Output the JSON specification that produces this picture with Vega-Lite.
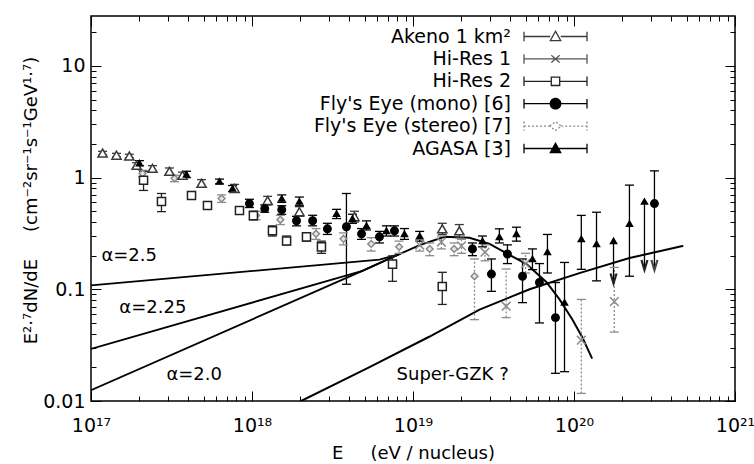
{
  "$schema": "https://vega.github.io/schema/vega-lite/v6.json",
  "width": 644,
  "height": 385,
  "autosize": {"type": "none"},
  "padding": {"left": 91, "top": 16, "right": 19, "bottom": 63},
  "background": "white",
  "config": {
    "view": {"stroke": "black", "strokeWidth": 1.5},
    "font": "DejaVu Sans",
    "axis": {"grid": false, "domain": false, "tickColor": "black", "labelColor": "black", "titleColor": "black", "labelFont": "DejaVu Sans", "titleFont": "DejaVu Sans", "labelFontSize": 19, "titleFontSize": 18, "titleFontWeight": "normal", "labelFlush": false, "labelOverlap": false, "labelBound": false}
  },
  "datasets": {
    "curves": [
      {"curve": "a25", "E": 1e17, "y": 0.1086},
      {"curve": "a25", "E": 6.19e18, "y": 0.1845},
      {"curve": "a25", "E": 8.24e18, "y": 0.207},
      {"curve": "a225", "E": 1e17, "y": 0.0293},
      {"curve": "a225", "E": 4.85e18, "y": 0.146},
      {"curve": "a225", "E": 8.24e18, "y": 0.207},
      {"curve": "a20", "E": 1e17, "y": 0.0125},
      {"curve": "a20", "E": 4.85e18, "y": 0.146},
      {"curve": "a20", "E": 8.24e18, "y": 0.207},
      {"curve": "gzk", "E": 8.24e18, "y": 0.207},
      {"curve": "gzk", "E": 1.1e19, "y": 0.249},
      {"curve": "gzk", "E": 1.57e19, "y": 0.295},
      {"curve": "gzk", "E": 2.24e19, "y": 0.289},
      {"curve": "gzk", "E": 2.99e19, "y": 0.255},
      {"curve": "gzk", "E": 3.97e19, "y": 0.203},
      {"curve": "gzk", "E": 5.07e19, "y": 0.168},
      {"curve": "gzk", "E": 6.75e19, "y": 0.1156},
      {"curve": "gzk", "E": 8.13e19, "y": 0.0813},
      {"curve": "gzk", "E": 9.77e19, "y": 0.0536},
      {"curve": "gzk", "E": 1.13e20, "y": 0.0368},
      {"curve": "gzk", "E": 1.29e20, "y": 0.0243},
      {"curve": "sgzk", "E": 2.02e18, "y": 0.01},
      {"curve": "sgzk", "E": 5.37e18, "y": 0.0201},
      {"curve": "sgzk", "E": 1.26e19, "y": 0.0376},
      {"curve": "sgzk", "E": 2.59e19, "y": 0.0659},
      {"curve": "sgzk", "E": 5.3e19, "y": 0.1},
      {"curve": "sgzk", "E": 1.08e20, "y": 0.1397},
      {"curve": "sgzk", "E": 2.21e20, "y": 0.1905},
      {"curve": "sgzk", "E": 4.72e20, "y": 0.2443}
    ],
    "points": [
      {"series": "Fly's Eye (stereo) [7]", "E": 2.09e17, "y": 1.09, "lo": 1.02, "hi": 1.16, "ul": 0},
      {"series": "Fly's Eye (stereo) [7]", "E": 3.3e17, "y": 0.986, "lo": 0.92, "hi": 1.05, "ul": 0},
      {"series": "Fly's Eye (stereo) [7]", "E": 6.47e17, "y": 0.65, "lo": 0.6, "hi": 0.7, "ul": 0},
      {"series": "Fly's Eye (stereo) [7]", "E": 1.06e18, "y": 0.457, "lo": 0.42, "hi": 0.5, "ul": 0},
      {"series": "Fly's Eye (stereo) [7]", "E": 1.5e18, "y": 0.42, "lo": 0.38, "hi": 0.46, "ul": 0},
      {"series": "Fly's Eye (stereo) [7]", "E": 2.5e18, "y": 0.314, "lo": 0.28, "hi": 0.35, "ul": 0},
      {"series": "Fly's Eye (stereo) [7]", "E": 3.7e18, "y": 0.283, "lo": 0.25, "hi": 0.32, "ul": 0},
      {"series": "Fly's Eye (stereo) [7]", "E": 5.5e18, "y": 0.255, "lo": 0.22, "hi": 0.29, "ul": 0},
      {"series": "Fly's Eye (stereo) [7]", "E": 8.2e18, "y": 0.24, "lo": 0.21, "hi": 0.27, "ul": 0},
      {"series": "Fly's Eye (stereo) [7]", "E": 1.27e19, "y": 0.23, "lo": 0.2, "hi": 0.26, "ul": 0},
      {"series": "Fly's Eye (stereo) [7]", "E": 1.8e19, "y": 0.23, "lo": 0.2, "hi": 0.26, "ul": 0},
      {"series": "Fly's Eye (stereo) [7]", "E": 2.41e19, "y": 0.131, "lo": 0.0535, "hi": 0.187, "ul": 0},
      {"series": "Hi-Res 1", "E": 1.1e19, "y": 0.249, "lo": 0.22, "hi": 0.28, "ul": 0},
      {"series": "Hi-Res 1", "E": 1.5e19, "y": 0.265, "lo": 0.23, "hi": 0.3, "ul": 0},
      {"series": "Hi-Res 1", "E": 2.0e19, "y": 0.245, "lo": 0.21, "hi": 0.28, "ul": 0},
      {"series": "Hi-Res 1", "E": 2.8e19, "y": 0.215, "lo": 0.18, "hi": 0.25, "ul": 0},
      {"series": "Hi-Res 1", "E": 3.79e19, "y": 0.0706, "lo": 0.0558, "hi": 0.152, "ul": 0},
      {"series": "Hi-Res 1", "E": 5.0e19, "y": 0.17, "lo": 0.14, "hi": 0.21, "ul": 0},
      {"series": "Hi-Res 1", "E": 1.11e20, "y": 0.035, "lo": 0.0117, "hi": 0.0812, "ul": 0},
      {"series": "Hi-Res 1", "E": 1.78e20, "y": 0.0776, "lo": 0.0414, "hi": 0.157, "ul": 0},
      {"series": "Akeno 1 km²", "E": 1.18e17, "y": 1.66, "lo": 1.6, "hi": 1.72, "ul": 0},
      {"series": "Akeno 1 km²", "E": 1.44e17, "y": 1.59, "lo": 1.53, "hi": 1.65, "ul": 0},
      {"series": "Akeno 1 km²", "E": 1.73e17, "y": 1.56, "lo": 1.5, "hi": 1.62, "ul": 0},
      {"series": "Akeno 1 km²", "E": 1.92e17, "y": 1.29, "lo": 1.22, "hi": 1.36, "ul": 0},
      {"series": "Akeno 1 km²", "E": 2.41e17, "y": 1.21, "lo": 1.14, "hi": 1.28, "ul": 0},
      {"series": "Akeno 1 km²", "E": 3.07e17, "y": 1.14, "lo": 1.07, "hi": 1.22, "ul": 0},
      {"series": "Akeno 1 km²", "E": 3.7e17, "y": 1.05, "lo": 0.98, "hi": 1.12, "ul": 0},
      {"series": "Akeno 1 km²", "E": 4.86e17, "y": 0.889, "lo": 0.82, "hi": 0.96, "ul": 0},
      {"series": "Akeno 1 km²", "E": 7.79e17, "y": 0.8, "lo": 0.74, "hi": 0.87, "ul": 0},
      {"series": "Akeno 1 km²", "E": 1.25e18, "y": 0.624, "lo": 0.57, "hi": 0.68, "ul": 0},
      {"series": "Akeno 1 km²", "E": 1.97e18, "y": 0.496, "lo": 0.45, "hi": 0.55, "ul": 0},
      {"series": "Akeno 1 km²", "E": 4.33e18, "y": 0.447, "lo": 0.4, "hi": 0.5, "ul": 0},
      {"series": "Akeno 1 km²", "E": 1.52e19, "y": 0.348, "lo": 0.31, "hi": 0.39, "ul": 0},
      {"series": "Akeno 1 km²", "E": 1.94e19, "y": 0.334, "lo": 0.29, "hi": 0.38, "ul": 0},
      {"series": "Hi-Res 2", "E": 2.12e17, "y": 0.946, "lo": 0.768, "hi": 1.14, "ul": 0},
      {"series": "Hi-Res 2", "E": 2.74e17, "y": 0.611, "lo": 0.496, "hi": 0.721, "ul": 0},
      {"series": "Hi-Res 2", "E": 4.21e17, "y": 0.692, "lo": 0.64, "hi": 0.75, "ul": 0},
      {"series": "Hi-Res 2", "E": 5.29e17, "y": 0.562, "lo": 0.52, "hi": 0.61, "ul": 0},
      {"series": "Hi-Res 2", "E": 8.36e17, "y": 0.507, "lo": 0.47, "hi": 0.55, "ul": 0},
      {"series": "Hi-Res 2", "E": 1.02e18, "y": 0.457, "lo": 0.42, "hi": 0.5, "ul": 0},
      {"series": "Hi-Res 2", "E": 1.34e18, "y": 0.334, "lo": 0.3, "hi": 0.37, "ul": 0},
      {"series": "Hi-Res 2", "E": 1.64e18, "y": 0.271, "lo": 0.25, "hi": 0.3, "ul": 0},
      {"series": "Hi-Res 2", "E": 2.18e18, "y": 0.295, "lo": 0.27, "hi": 0.32, "ul": 0},
      {"series": "Hi-Res 2", "E": 2.7e18, "y": 0.24, "lo": 0.21, "hi": 0.27, "ul": 0},
      {"series": "Hi-Res 2", "E": 7.46e18, "y": 0.168, "lo": 0.118, "hi": 0.199, "ul": 0},
      {"series": "Hi-Res 2", "E": 1.52e19, "y": 0.106, "lo": 0.0732, "hi": 0.142, "ul": 0},
      {"series": "Fly's Eye (mono) [6]", "E": 9.64e17, "y": 0.586, "lo": 0.54, "hi": 0.64, "ul": 0},
      {"series": "Fly's Eye (mono) [6]", "E": 1.2e18, "y": 0.528, "lo": 0.49, "hi": 0.57, "ul": 0},
      {"series": "Fly's Eye (mono) [6]", "E": 1.53e18, "y": 0.517, "lo": 0.47, "hi": 0.56, "ul": 0},
      {"series": "Fly's Eye (mono) [6]", "E": 1.89e18, "y": 0.411, "lo": 0.37, "hi": 0.45, "ul": 0},
      {"series": "Fly's Eye (mono) [6]", "E": 2.38e18, "y": 0.411, "lo": 0.37, "hi": 0.46, "ul": 0},
      {"series": "Fly's Eye (mono) [6]", "E": 2.94e18, "y": 0.348, "lo": 0.31, "hi": 0.39, "ul": 0},
      {"series": "Fly's Eye (mono) [6]", "E": 3.86e18, "y": 0.363, "lo": 0.111, "hi": 0.721, "ul": 0},
      {"series": "Fly's Eye (mono) [6]", "E": 4.79e18, "y": 0.314, "lo": 0.28, "hi": 0.35, "ul": 0},
      {"series": "Fly's Eye (mono) [6]", "E": 6.19e18, "y": 0.295, "lo": 0.26, "hi": 0.33, "ul": 0},
      {"series": "Fly's Eye (mono) [6]", "E": 7.67e18, "y": 0.334, "lo": 0.3, "hi": 0.37, "ul": 0},
      {"series": "Fly's Eye (mono) [6]", "E": 2.34e19, "y": 0.23, "lo": 0.2, "hi": 0.26, "ul": 0},
      {"series": "Fly's Eye (mono) [6]", "E": 3.07e19, "y": 0.137, "lo": 0.0959, "hi": 0.187, "ul": 0},
      {"series": "Fly's Eye (mono) [6]", "E": 3.86e19, "y": 0.207, "lo": 0.17, "hi": 0.25, "ul": 0},
      {"series": "Fly's Eye (mono) [6]", "E": 4.79e19, "y": 0.131, "lo": 0.076, "hi": 0.187, "ul": 0},
      {"series": "Fly's Eye (mono) [6]", "E": 6.1e19, "y": 0.115, "lo": 0.05, "hi": 0.17, "ul": 0},
      {"series": "Fly's Eye (mono) [6]", "E": 7.67e19, "y": 0.0558, "lo": 0.0177, "hi": 0.115, "ul": 0},
      {"series": "Fly's Eye (mono) [6]", "E": 3.16e20, "y": 0.586, "lo": 0.152, "hi": 1.15, "ul": 1},
      {"series": "AGASA [3]", "E": 2.0e17, "y": 1.35, "lo": 1.28, "hi": 1.42, "ul": 0},
      {"series": "AGASA [3]", "E": 3.92e17, "y": 1.07, "lo": 1.0, "hi": 1.14, "ul": 0},
      {"series": "AGASA [3]", "E": 6.28e17, "y": 0.926, "lo": 0.88, "hi": 0.97, "ul": 0},
      {"series": "AGASA [3]", "E": 7.57e17, "y": 0.8, "lo": 0.75, "hi": 0.85, "ul": 0},
      {"series": "AGASA [3]", "E": 1.53e18, "y": 0.65, "lo": 0.6, "hi": 0.7, "ul": 0},
      {"series": "AGASA [3]", "E": 1.97e18, "y": 0.611, "lo": 0.56, "hi": 0.67, "ul": 0},
      {"series": "AGASA [3]", "E": 3.35e18, "y": 0.476, "lo": 0.43, "hi": 0.52, "ul": 0},
      {"series": "AGASA [3]", "E": 4.21e18, "y": 0.429, "lo": 0.39, "hi": 0.47, "ul": 0},
      {"series": "AGASA [3]", "E": 5.14e18, "y": 0.371, "lo": 0.34, "hi": 0.41, "ul": 0},
      {"series": "AGASA [3]", "E": 6.84e18, "y": 0.334, "lo": 0.3, "hi": 0.37, "ul": 0},
      {"series": "AGASA [3]", "E": 8.85e18, "y": 0.314, "lo": 0.28, "hi": 0.35, "ul": 0},
      {"series": "AGASA [3]", "E": 1.1e19, "y": 0.301, "lo": 0.27, "hi": 0.33, "ul": 0},
      {"series": "AGASA [3]", "E": 2.7e19, "y": 0.271, "lo": 0.24, "hi": 0.3, "ul": 0},
      {"series": "AGASA [3]", "E": 3.44e19, "y": 0.295, "lo": 0.26, "hi": 0.348, "ul": 0},
      {"series": "AGASA [3]", "E": 4.39e19, "y": 0.314, "lo": 0.27, "hi": 0.36, "ul": 0},
      {"series": "AGASA [3]", "E": 5.52e19, "y": 0.187, "lo": 0.15, "hi": 0.23, "ul": 0},
      {"series": "AGASA [3]", "E": 6.84e19, "y": 0.216, "lo": 0.14, "hi": 0.31, "ul": 0},
      {"series": "AGASA [3]", "E": 8.73e19, "y": 0.0763, "lo": 0.0183, "hi": 0.174, "ul": 0},
      {"series": "AGASA [3]", "E": 1.11e20, "y": 0.283, "lo": 0.151, "hi": 0.459, "ul": 0},
      {"series": "AGASA [3]", "E": 1.38e20, "y": 0.255, "lo": 0.119, "hi": 0.49, "ul": 0},
      {"series": "AGASA [3]", "E": 1.76e20, "y": 0.271, "lo": 0.115, "hi": 0.271, "ul": 1},
      {"series": "AGASA [3]", "E": 2.21e20, "y": 0.387, "lo": 0.131, "hi": 0.857, "ul": 0},
      {"series": "AGASA [3]", "E": 2.74e20, "y": 0.611, "lo": 0.152, "hi": 0.611, "ul": 1}
    ],
    "labels": [
      {"label": "α=2.5", "E": 1.16e17, "y": 0.199},
      {"label": "α=2.25", "E": 1.5e17, "y": 0.0687},
      {"label": "α=2.0", "E": 2.94e17, "y": 0.0171},
      {"label": "Super-GZK ?", "E": 7.91e18, "y": 0.0171}
    ],
    "legendItems": [
      {"name": "Akeno 1 km²"},
      {"name": "Hi-Res 1"},
      {"name": "Hi-Res 2"},
      {"name": "Fly's Eye (mono) [6]"},
      {"name": "Fly's Eye (stereo) [7]"},
      {"name": "AGASA [3]"}
    ]
  },
  "resolve": {
    "scale": {"color": "independent", "shape": "independent", "fill": "independent", "stroke": "independent", "strokeDash": "independent", "strokeWidth": "independent", "size": "independent"},
    "axis": {"x": "independent", "y": "independent"},
    "legend": {"color": "independent", "shape": "independent", "fill": "independent", "stroke": "independent", "strokeDash": "independent", "strokeWidth": "independent", "size": "independent"}
  },
  "layer": [
    {
      "data": {"name": "curves"},
      "mark": {"type": "line", "color": "black", "clip": true, "strokeCap": "round"},
      "encoding": {
        "x": {"field": "E", "type": "quantitative", "scale": {"type": "log", "domain": [1e17, 1e21]},
          "axis": {"orient": "bottom",
            "values": [1e17,2e17,3e17,4e17,5e17,6e17,7e17,8e17,9e17,1e18,2e18,3e18,4e18,5e18,6e18,7e18,8e18,9e18,1e19,2e19,3e19,4e19,5e19,6e19,7e19,8e19,9e19,1e20,2e20,3e20,4e20,5e20,6e20,7e20,8e20,9e20,1e21],
            "tickSize": {"condition": {"test": "abs(log(datum.value)/LN10 - round(log(datum.value)/LN10)) < 0.01", "value": -10}, "value": -5},
            "tickWidth": 1,
            "labelPadding": 25,
            "labelExpr": "abs(log(datum.value)/LN10 - round(log(datum.value)/LN10)) < 0.01 ? '10' + (round(log(datum.value)/LN10) == 17 ? '¹⁷' : round(log(datum.value)/LN10) == 18 ? '¹⁸' : round(log(datum.value)/LN10) == 19 ? '¹⁹' : round(log(datum.value)/LN10) == 20 ? '²⁰' : '²¹') : ''",
            "title": "E\u2003\u2002(eV / nucleus)",
            "titleY": 57,
            "titleBaseline": "alphabetic"}},
        "y": {"field": "y", "type": "quantitative", "scale": {"type": "log", "domain": [0.01, 28]},
          "axis": {"orient": "left",
            "values": [0.01,0.02,0.03,0.04,0.05,0.06,0.07,0.08,0.09,0.1,0.2,0.3,0.4,0.5,0.6,0.7,0.8,0.9,1,2,3,4,5,6,7,8,9,10,20],
            "tickSize": {"condition": {"test": "abs(log(datum.value)/LN10 - round(log(datum.value)/LN10)) < 0.01", "value": -10}, "value": -5},
            "tickWidth": 1,
            "labelPadding": 16,
            "labelExpr": "abs(log(datum.value)/LN10 - round(log(datum.value)/LN10)) < 0.01 ? format(datum.value, '~g') : ''",
            "title": "E²·⁷dN/dE\u2003\u2002(cm⁻²sr⁻¹s⁻¹GeV¹·⁷)",
            "titleAngle": -90,
            "titleX": -55,
            "titleY": 184,
            "titleAlign": "center",
            "titleBaseline": "alphabetic"}},
        "detail": {"field": "curve"},
        "strokeWidth": {"field": "curve", "type": "nominal", "scale": {"domain": ["a25", "a225", "a20", "gzk", "sgzk"], "range": [1.8, 2, 2, 3.2, 1]}, "legend": null}
      }
    },
    {
      "data": {"name": "points"},
      "mark": {"type": "rule", "strokeWidth": 1.3},
      "encoding": {
        "x": {"field": "E", "type": "quantitative", "scale": {"type": "log", "domain": [1e17, 1e21]}, "axis": null},
        "y": {"field": "lo", "type": "quantitative", "scale": {"type": "log", "domain": [0.01, 28]}, "axis": null},
        "y2": {"field": "hi"},
        "color": {"field": "series", "type": "nominal", "scale": {"domain": ["Akeno 1 km²", "Hi-Res 1", "Hi-Res 2", "Fly's Eye (mono) [6]", "Fly's Eye (stereo) [7]", "AGASA [3]"], "range": ["#3a3a3a", "#8c8c8c", "#222222", "#000000", "#8a8a8a", "#000000"]}, "legend": null},
        "strokeDash": {"field": "series", "type": "nominal", "scale": {"domain": ["Akeno 1 km²", "Hi-Res 1", "Hi-Res 2", "Fly's Eye (mono) [6]", "Fly's Eye (stereo) [7]", "AGASA [3]"], "range": [[1, 0], [2, 2], [1, 0], [1, 0], [2, 2], [1, 0]]}, "legend": null}
      }
    },
    {
      "data": {"name": "points"},
      "transform": [{"filter": "datum.hi > datum.y * 1.001"}],
      "mark": {"type": "point", "shape": "M-1,0L1,0", "size": 81, "strokeWidth": 1.3, "opacity": 1, "filled": false},
      "encoding": {
        "x": {"field": "E", "type": "quantitative", "scale": {"type": "log", "domain": [1e17, 1e21]}, "axis": null},
        "y": {"field": "hi", "type": "quantitative", "scale": {"type": "log", "domain": [0.01, 28]}, "axis": null},
        "color": {"field": "series", "type": "nominal", "scale": {"domain": ["Akeno 1 km²", "Hi-Res 1", "Hi-Res 2", "Fly's Eye (mono) [6]", "Fly's Eye (stereo) [7]", "AGASA [3]"], "range": ["#3a3a3a", "#8c8c8c", "#222222", "#000000", "#8a8a8a", "#000000"]}, "legend": null}
      }
    },
    {
      "data": {"name": "points"},
      "transform": [{"filter": "datum.ul == 0"}],
      "mark": {"type": "point", "shape": "M-1,0L1,0", "size": 81, "strokeWidth": 1.3, "opacity": 1, "filled": false},
      "encoding": {
        "x": {"field": "E", "type": "quantitative", "scale": {"type": "log", "domain": [1e17, 1e21]}, "axis": null},
        "y": {"field": "lo", "type": "quantitative", "scale": {"type": "log", "domain": [0.01, 28]}, "axis": null},
        "color": {"field": "series", "type": "nominal", "scale": {"domain": ["Akeno 1 km²", "Hi-Res 1", "Hi-Res 2", "Fly's Eye (mono) [6]", "Fly's Eye (stereo) [7]", "AGASA [3]"], "range": ["#3a3a3a", "#8c8c8c", "#222222", "#000000", "#8a8a8a", "#000000"]}, "legend": null}
      }
    },
    {
      "data": {"name": "points"},
      "transform": [{"filter": "datum.ul == 1"}],
      "mark": {"type": "point", "shape": "M-0.6,-1L0,1L0.6,-1", "size": 100, "strokeWidth": 2.2, "opacity": 1, "filled": false, "yOffset": -4},
      "encoding": {
        "x": {"field": "E", "type": "quantitative", "scale": {"type": "log", "domain": [1e17, 1e21]}, "axis": null},
        "y": {"field": "lo", "type": "quantitative", "scale": {"type": "log", "domain": [0.01, 28]}, "axis": null},
        "color": {"field": "series", "type": "nominal", "scale": {"domain": ["Akeno 1 km²", "Hi-Res 1", "Hi-Res 2", "Fly's Eye (mono) [6]", "Fly's Eye (stereo) [7]", "AGASA [3]"], "range": ["#3a3a3a", "#8c8c8c", "#222222", "#444444", "#8a8a8a", "#222222"]}, "legend": null}
      }
    },
    {
      "data": {"name": "points"},
      "mark": {"type": "point", "strokeWidth": 1.5, "opacity": 1},
      "encoding": {
        "x": {"field": "E", "type": "quantitative", "scale": {"type": "log", "domain": [1e17, 1e21]}, "axis": null},
        "y": {"field": "y", "type": "quantitative", "scale": {"type": "log", "domain": [0.01, 28]}, "axis": null},
        "shape": {"field": "series", "type": "nominal", "scale": {"domain": ["Akeno 1 km²", "Hi-Res 1", "Hi-Res 2", "Fly's Eye (mono) [6]", "Fly's Eye (stereo) [7]", "AGASA [3]"], "range": ["triangle-up", "M-1,-1L1,1M-1,1L1,-1", "square", "circle", "diamond", "triangle-up"]}, "legend": null},
        "size": {"field": "series", "type": "nominal", "scale": {"domain": ["Akeno 1 km²", "Hi-Res 1", "Hi-Res 2", "Fly's Eye (mono) [6]", "Fly's Eye (stereo) [7]", "AGASA [3]"], "range": [85, 36, 60, 100, 75, 85]}, "legend": null},
        "stroke": {"field": "series", "type": "nominal", "scale": {"domain": ["Akeno 1 km²", "Hi-Res 1", "Hi-Res 2", "Fly's Eye (mono) [6]", "Fly's Eye (stereo) [7]", "AGASA [3]"], "range": ["#3a3a3a", "#8c8c8c", "#222222", "#000000", "#8a8a8a", "#000000"]}, "legend": null},
        "fill": {"field": "series", "type": "nominal", "scale": {"domain": ["Akeno 1 km²", "Hi-Res 1", "Hi-Res 2", "Fly's Eye (mono) [6]", "Fly's Eye (stereo) [7]", "AGASA [3]"], "range": ["#ffffff", "#ffffff", "#ffffff", "#000000", "#e6e6e6", "#000000"]}, "legend": null}
      }
    },
    {
      "data": {"name": "labels"},
      "mark": {"type": "text", "align": "left", "baseline": "middle", "fontSize": 18, "font": "DejaVu Sans", "color": "black"},
      "encoding": {
        "x": {"field": "E", "type": "quantitative", "scale": {"type": "log", "domain": [1e17, 1e21]},
          "axis": {"orient": "top", "title": null, "labels": false,
            "values": [1e17,2e17,3e17,4e17,5e17,6e17,7e17,8e17,9e17,1e18,2e18,3e18,4e18,5e18,6e18,7e18,8e18,9e18,1e19,2e19,3e19,4e19,5e19,6e19,7e19,8e19,9e19,1e20,2e20,3e20,4e20,5e20,6e20,7e20,8e20,9e20,1e21],
            "tickSize": {"condition": {"test": "abs(log(datum.value)/LN10 - round(log(datum.value)/LN10)) < 0.01", "value": -10}, "value": -5}}},
        "y": {"field": "y", "type": "quantitative", "scale": {"type": "log", "domain": [0.01, 28]},
          "axis": {"orient": "right", "title": null, "labels": false,
            "values": [0.01,0.02,0.03,0.04,0.05,0.06,0.07,0.08,0.09,0.1,0.2,0.3,0.4,0.5,0.6,0.7,0.8,0.9,1,2,3,4,5,6,7,8,9,10,20],
            "tickSize": {"condition": {"test": "abs(log(datum.value)/LN10 - round(log(datum.value)/LN10)) < 0.01", "value": -10}, "value": -5}}},
        "text": {"field": "label"}
      }
    },
    {
      "data": {"name": "legendItems"},
      "transform": [{"filter": "false"}],
      "mark": {"type": "point", "opacity": 1, "strokeWidth": 1.3},
      "encoding": {
        "shape": {"field": "name", "type": "nominal",
          "scale": {"domain": ["Akeno 1 km²", "Hi-Res 1", "Hi-Res 2", "Fly's Eye (mono) [6]", "Fly's Eye (stereo) [7]", "AGASA [3]"],
            "range": [
              "M-3,-0.45L-3,0.45M-3,0L-0.5,0M0.5,0L3,0M3,-0.45L3,0.45M-0.5,0.4L0.5,0.4L0,-0.5Z",
              "M-3,-0.45L-3,0.45M-3,0L3,0M3,-0.45L3,0.45M-0.4,-0.35L0.4,0.35M-0.4,0.35L0.4,-0.35",
              "M-3,-0.45L-3,0.45M-3,0L-0.4,0M0.4,0L3,0M3,-0.45L3,0.45M-0.4,-0.4L0.4,-0.4L0.4,0.4L-0.4,0.4Z",
              "M-3,-0.45L-3,0.45M-3,0L3,0M3,-0.45L3,0.45M-0.5,0A0.5,0.5 0 1,0 0.5,0A0.5,0.5 0 1,0 -0.5,0Z",
              "M-3,-0.45L-3,0.45M-3,0L-0.55,0M0.55,0L3,0M3,-0.45L3,0.45M-0.55,0L0,-0.42L0.55,0L0,0.42Z",
              "M-3,-0.45L-3,0.45M-3,0L3,0M3,-0.45L3,0.45M-0.5,0.4L0.5,0.4L0,-0.5Z"]},
          "legend": {"title": null, "orient": "none", "legendX": 453, "legendY": 9, "padding": 0, "rowPadding": 0.4,
            "symbolSize": 441, "symbolStrokeWidth": 1.3, "labelFont": "DejaVu Sans", "labelFontSize": 19, "labelLimit": 400,
            "labelAlign": "right", "labelOffset": -56,
            "encode": {"labels": {"update": {"fill": {"signal": "indexof(datum.value, 'stereo') >= 0 ? '#8a8a8a' : '#000000'"}}}}}},
        "stroke": {"field": "name", "type": "nominal",
          "scale": {"domain": ["Akeno 1 km²", "Hi-Res 1", "Hi-Res 2", "Fly's Eye (mono) [6]", "Fly's Eye (stereo) [7]", "AGASA [3]"], "range": ["#3a3a3a", "#555555", "#222222", "#000000", "#8a8a8a", "#000000"]},
          "legend": {"title": null}},
        "fill": {"field": "name", "type": "nominal",
          "scale": {"domain": ["Akeno 1 km²", "Hi-Res 1", "Hi-Res 2", "Fly's Eye (mono) [6]", "Fly's Eye (stereo) [7]", "AGASA [3]"], "range": ["#ffffff", "#ffffff", "#ffffff", "#000000", "#ffffff", "#000000"]},
          "legend": {"title": null}},
        "strokeDash": {"field": "name", "type": "nominal",
          "scale": {"domain": ["Akeno 1 km²", "Hi-Res 1", "Hi-Res 2", "Fly's Eye (mono) [6]", "Fly's Eye (stereo) [7]", "AGASA [3]"], "range": [[1, 0], [1, 0], [1, 0], [1, 0], [2, 2], [1, 0]]},
          "legend": {"title": null}}
      }
    }
  ]
}
